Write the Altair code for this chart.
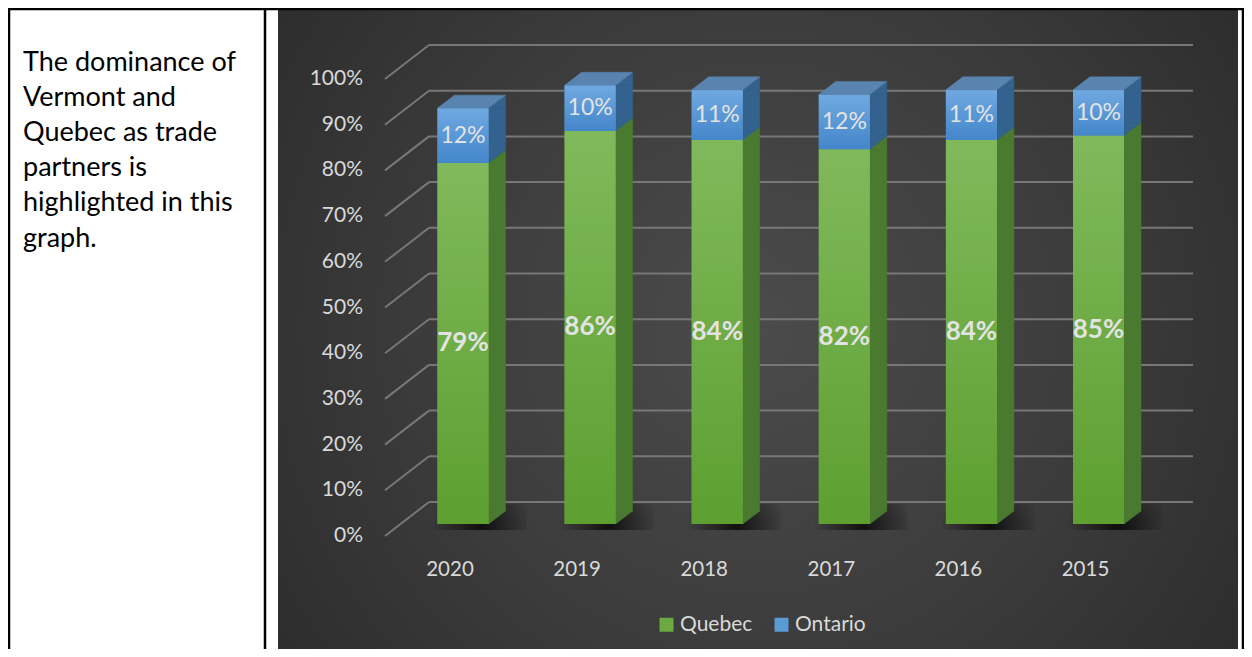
import altair as alt
import pandas as pd

# ---------------- data ----------------
years = ["2020", "2019", "2018", "2017", "2016", "2015"]
quebec = [0.79, 0.86, 0.84, 0.82, 0.84, 0.85]
ontario = [0.12, 0.10, 0.11, 0.12, 0.11, 0.10]
series_names = ["Quebec", "Ontario"]
tick_values = [0.0, 0.1, 0.2, 0.3, 0.4, 0.5, 0.6, 0.7, 0.8, 0.9, 1.0]
note_lines = ["The dominance of", "Vermont and", "Quebec as trade",
              "partners is", "highlighted in this", "graph."]

rows = []
for yr, q, o in zip(years, quebec, ontario):
    rows.append({"year": yr, "series": "Quebec", "start": 0.0, "end": q, "value": q})
    rows.append({"year": yr, "series": "Ontario", "start": q, "end": q + o, "value": o})
seg = pd.DataFrame(rows)
tops = pd.DataFrame({"year": years, "total": [q + o for q, o in zip(quebec, ontario)]})
ticks = pd.DataFrame({"tick": tick_values})
one = pd.DataFrame({"k": [0]})

# ---------------- style / geometry ----------------
W, H = 1236, 641
BAR_W, DX, DY = 51, 17, 13
FONT = "Lato"
TXT = "#d9d9d9"

GREEN = "#6aaa40"
BLUE = "#5b9bd5"

xscale = alt.Scale(domain=years, range=[391.45, 1154.05], paddingInner=0, paddingOuter=0)
yscale = alt.Scale(domain=[0, 1], range=[516, 59], nice=False, zero=False)

xaxis = alt.Axis(orient="bottom", offset=-90, ticks=False, domain=False, grid=False,
                 labelPadding=0, labelOffset=-13, labelFont=FONT, labelFontSize=20.5,
                 labelColor=TXT, labelAngle=0, title=None, zindex=2)


def X(axis=None):
    return alt.X("year:N", scale=xscale, axis=axis)


def Y(field, axis=None):
    return alt.Y(field, type="quantitative", scale=yscale, axis=axis)


def lin(top, bottom):
    return alt.LinearGradient(
        gradient="linear",
        stops=[alt.GradientStop(color=top, offset=0), alt.GradientStop(color=bottom, offset=1)],
        x1=0, x2=0, y1=0, y2=1)


bg = alt.Chart(one).mark_rect(
    fill=alt.RadialGradient(
        gradient="radial",
        stops=[alt.GradientStop(color="#4b4b4b", offset=0),
               alt.GradientStop(color="#3c3c3c", offset=0.45),
               alt.GradientStop(color="#252525", offset=1)],
        x1=0.5, y1=0.5, x2=0.5, y2=0.5, r1=0, r2=0.75)
).encode(x=alt.value(270), x2=alt.value(1230), y=alt.value(0), y2=alt.value(H))

# table borders of the surrounding document
border_v = alt.Chart(pd.DataFrame({"pos": [1, 257, 1235]})).mark_rule(
    color="black", strokeWidth=2.5
).encode(x=alt.X("pos:Q", scale=alt.Scale(domain=[0, W], range=[0, W]), axis=None),
         y=alt.value(0), y2=alt.value(H))
border_h = alt.Chart(one).mark_rule(color="black", strokeWidth=2.5).encode(
    x=alt.value(0), x2=alt.value(W), y=alt.value(1))

note = alt.Chart(one).mark_text(
    align="left", baseline="alphabetic", font=FONT, fontSize=27, color="black",
    lineHeight=35.2
).encode(x=alt.value(15), y=alt.value(62.7), text=alt.value(note_lines))

# back wall gridlines, floor-to-wall diagonals and value-axis labels
grid = alt.Chart(ticks).mark_rule(color="#777777", strokeWidth=2, yOffset=-22).encode(
    x=alt.value(421), x2=alt.value(1185), y=Y("tick"))
diag = alt.Chart(ticks).mark_rule(color="#777777", strokeWidth=2, yOffset=12, y2Offset=-22).encode(
    x=alt.value(377), x2=alt.value(421), y=Y("tick"), y2=alt.Y2("tick"))
ylabels = alt.Chart(ticks).mark_text(
    align="right", baseline="middle", font=FONT, fontSize=21, color=TXT, yOffset=12
).encode(x=alt.value(355), y=Y("tick"), text=alt.Text("tick:Q", format=".0%"))

# floor shadow
shadow = alt.Chart(tops).mark_bar(
    width=100, xOffset=14, yOffset=-20, y2Offset=6,
    fill=alt.RadialGradient(
        gradient="radial",
        stops=[alt.GradientStop(color="rgba(0,0,0,0.75)", offset=0),
               alt.GradientStop(color="rgba(0,0,0,0.35)", offset=0.5),
               alt.GradientStop(color="rgba(0,0,0,0)", offset=1)],
        x1=0.55, y1=0.6, x2=0.55, y2=0.6, r1=0, r2=0.5)
).encode(x=X(xaxis), y=alt.Y(datum=0, scale=yscale, axis=None), y2=alt.Y2(datum=0))

SIDE_OFF = BAR_W / 2 + DX / 2
hy = DY / DX
TRI_TOP = f"M -1 {hy:.3f} L 1 {-hy:.3f} L 1 {hy:.3f} Z"
TRI_BOT = f"M -1 {-hy:.3f} L -1 {hy:.3f} L 1 {-hy:.3f} Z"
TW = BAR_W + DX
ty = DY / TW
xa = -1 + 2 * BAR_W / TW
xb = -1 + 2 * DX / TW
TOP_FACE = f"M -1 {ty:.3f} L {xa:.3f} {ty:.3f} L 1 {-ty:.3f} L {xb:.3f} {-ty:.3f} Z"

side_cols = {"Quebec": "#4a7a30", "Ontario": "#33628f"}
front_grad = {"Quebec": ("#80b95b", "#5d9f30"), "Ontario": ("#70a9e1", "#4386ca")}

layers = [bg, border_v, border_h, note, grid, diag, ylabels, shadow]

for s in series_names:
    base = alt.Chart(seg).transform_filter(alt.datum.series == s)
    c = side_cols[s]
    layers.append(base.mark_bar(width=DX, xOffset=SIDE_OFF, y2Offset=-DY, color=c,
                                stroke=c, strokeWidth=0.5)
                  .encode(x=X(), y=Y("end"), y2=alt.Y2("start")))
    layers.append(base.mark_point(shape=TRI_TOP, size=DX * DX, filled=True, opacity=1,
                                  color=c, stroke=c, strokeWidth=0.5,
                                  xOffset=SIDE_OFF, yOffset=-DY / 2)
                  .encode(x=X(), y=Y("end")))
    layers.append(base.mark_point(shape=TRI_BOT, size=DX * DX, filled=True, opacity=1,
                                  color=c, stroke=c, strokeWidth=0.5,
                                  xOffset=SIDE_OFF, yOffset=-DY / 2)
                  .encode(x=X(), y=Y("start")))

front = alt.Chart(seg).mark_bar(width=BAR_W).encode(
    x=X(), y=Y("end"), y2=alt.Y2("start"),
    color=alt.Color("series:N",
                    scale=alt.Scale(domain=series_names, range=[GREEN, BLUE]),
                    legend=alt.Legend(orient="none", legendX=648, legendY=606,
                                      direction="horizontal", title=None,
                                      symbolType="square", symbolSize=196,
                                      symbolStrokeWidth=0, symbolOpacity=1,
                                      labelFont=FONT, labelFontSize=21,
                                      labelColor=TXT, labelOffset=3,
                                      columnPadding=18, padding=0)))
layers.append(front)

for s in series_names:
    t, b = front_grad[s]
    layers.append(alt.Chart(seg).transform_filter(alt.datum.series == s)
                  .mark_bar(width=BAR_W, fill=lin(t, b))
                  .encode(x=X(), y=Y("end"), y2=alt.Y2("start")))

top_face = alt.Chart(tops).mark_point(
    shape=TOP_FACE, size=TW * TW, filled=True, opacity=1, color="#5a84b0",
    stroke="#5a84b0", strokeWidth=0.5, xOffset=DX / 2, yOffset=-DY / 2
).encode(x=X(), y=Y("total"))
layers.append(top_face)

lab_q = alt.Chart(seg).transform_filter(alt.datum.series == "Quebec").transform_calculate(
    mid="(datum.start + datum.end) / 2"
).mark_text(font=FONT, fontWeight="bold", fontSize=26, color="#e3e3e3", baseline="middle").encode(
    x=X(), y=Y("mid"), text=alt.Text("value:Q", format=".0%"))
lab_o = alt.Chart(seg).transform_filter(alt.datum.series == "Ontario").transform_calculate(
    mid="(datum.start + datum.end) / 2"
).mark_text(font=FONT, fontSize=23, color="#e3e3e3", baseline="middle").encode(
    x=X(), y=Y("mid"), text=alt.Text("value:Q", format=".0%"))
layers += [lab_q, lab_o]

chart = alt.layer(*layers).properties(
    width=W, height=H, autosize=alt.AutoSizeParams(type="none"), padding=0
).configure_view(strokeWidth=0)

chart.save("out.html", embed_options={"renderer": "svg", "actions": False})
